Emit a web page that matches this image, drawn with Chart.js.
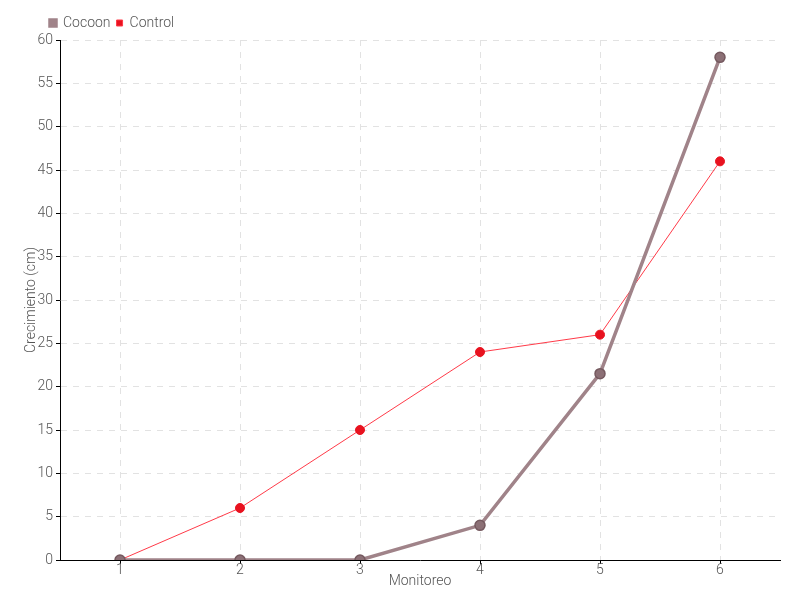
<!DOCTYPE html>
<html>
<head>
<meta charset="utf-8">
<script src="https://cdn.jsdelivr.net/npm/chart.js@4"></script>
<style>
  html, body { margin: 0; padding: 0; background: #fff; }
  #wrap { width: 800px; height: 600px; }
</style>
</head>
<body>
<div id="wrap"><canvas id="chart" width="800" height="600"></canvas></div>
<script>
// ---- data ----
const monitoreo = ['1', '2', '3', '4', '5', '6'];
const cocoon = [0, 0, 0, 4, 21.5, 58];
const control = [0, 6, 15, 24, 26, 46];

Chart.defaults.font.family = "Roboto, 'DejaVu Sans', sans-serif";
Chart.defaults.font.weight = 300;
Chart.defaults.font.size = 14;
Chart.defaults.color = '#555';

new Chart(document.getElementById('chart'), {
  type: 'line',
  data: {
    labels: monitoreo,
    datasets: [
      {
        label: 'Cocoon', data: cocoon,
        borderColor: '#a08389', backgroundColor: '#a08389', borderWidth: 3.5,
        pointRadius: 5, pointBackgroundColor: '#8c7076', pointBorderColor: '#75595f', pointBorderWidth: 1.5,
        tension: 0
      },
      {
        label: 'Control', data: control,
        borderColor: '#ff3a48', backgroundColor: '#e8121f', borderWidth: 1,
        pointRadius: 4.5, pointBackgroundColor: '#e8121f', pointBorderColor: '#e8121f', pointBorderWidth: 1,
        tension: 0
      }
    ]
  },
  options: {
    responsive: false,
    animation: false,
    layout: { padding: { left: 23, right: 20, top: 10, bottom: 0 } },
    plugins: {
      legend: {
        align: 'start',
        labels: { boxWidth: 6, boxHeight: 6, padding: 6, font: { size: 14 } }
      },
      tooltip: { enabled: false }
    },
    scales: {
      x: {
        offset: true,
        grid: { offset: false, color: '#e2e2e2', tickColor: '#000', tickLength: 4 },
        border: { color: '#000', width: 1, dash: [6, 6] },
        ticks: { padding: -2, font: { size: 14 } },
        title: { display: true, text: 'Monitoreo', padding: { top: 0, bottom: 10 }, font: { size: 14 } },
        afterFit(scale) { scale.height = 40; }
      },
      y: {
        min: 0, max: 60,
        ticks: { stepSize: 5, padding: 3, font: { size: 14 } },
        grid: { color: '#e2e2e2', tickColor: '#000', tickLength: 4 },
        border: { color: '#000', width: 1, dash: [6, 6] },
        title: { display: true, text: 'Crecimiento (cm)', padding: 0, font: { size: 14 } },
        afterFit(scale) { scale.width = 37; }
      }
    }
  },
  plugins: [{
    id: 'shiftLegend',
    afterLayout(chart) {
      chart.legend.left += 21;
      chart.legend.right += 21;
    }
  }]
});
</script>
</body>
</html>
